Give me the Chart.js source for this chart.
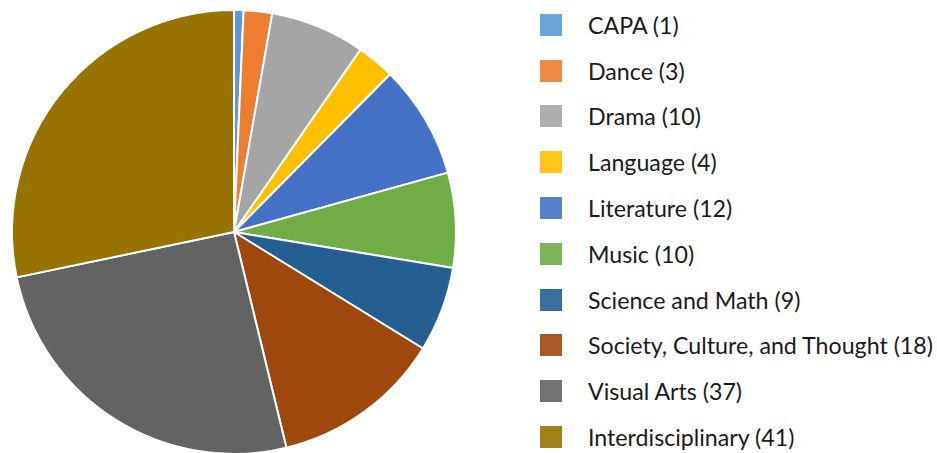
<!DOCTYPE html>
<html>
<head>
<meta charset="utf-8">
<script src="https://cdn.jsdelivr.net/npm/chart.js@4.4.0/dist/chart.umd.min.js"></script>
<style>
  html, body { margin: 0; padding: 0; background: #fff; overflow: hidden; }
  #wrap { position: relative; width: 937px; height: 453px; }
  #pie { position: absolute; left: 0; top: 0; }
  #legend { position: absolute; left: 540px; top: 2px; font-family: "Lato", sans-serif; font-size: 23.2px; color: #1a1a1a; }
  .row { height: 45.8px; display: flex; align-items: center; white-space: nowrap; }
  .box { width: 22px; height: 22px; margin-right: 26px; box-sizing: border-box; }
</style>
</head>
<body>
<div id="wrap">
  <canvas id="pie" width="468" height="464"></canvas>
  <div id="legend"></div>
</div>
<script>
// DATA
const categories = ["CAPA", "Dance", "Drama", "Language", "Literature", "Music",
  "Science and Math", "Society, Culture, and Thought", "Visual Arts", "Interdisciplinary"];
const counts = [1, 3, 10, 4, 12, 10, 9, 18, 37, 41];
const colors = ["#5B9BD5", "#ED7D31", "#A5A5A5", "#FFC000", "#4472C4", "#70AD47",
  "#255E91", "#9E480E", "#636363", "#997300"];

// LEGEND (html, built from the arrays)
const legendEl = document.getElementById("legend");
categories.forEach((cat, i) => {
    const row = document.createElement("div");
    row.className = "row";
    const box = document.createElement("span");
    box.className = "box";
    box.style.background = colors[i];
    box.style.opacity = "0.9";
    const txt = document.createElement("span");
    txt.textContent = cat + " (" + counts[i] + ")";
    row.appendChild(box);
    row.appendChild(txt);
    legendEl.appendChild(row);
});

// PIE CHART
new Chart(document.getElementById("pie"), {
    type: "pie",
    data: {
        labels: categories,
        datasets: [{
            data: counts,
            backgroundColor: colors,
            borderColor: "#ffffff",
            borderWidth: 2
        }]
    },
    options: {
        responsive: false,
        animation: false,
        layout: { padding: 9 },
        plugins: {
            legend: { display: false },
            tooltip: { enabled: false }
        }
    }
});
</script>
</body>
</html>
